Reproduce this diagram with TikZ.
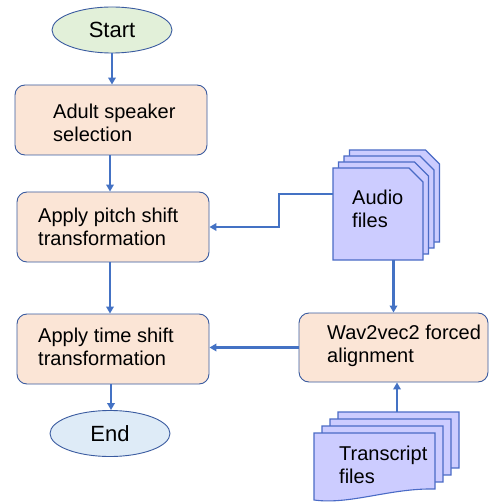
\documentclass[tikz,border=0pt]{standalone}
\usepackage{fontspec}
\setmainfont{Liberation Sans}
\usetikzlibrary{arrows.meta,shapes.geometric}
\definecolor{peach}{HTML}{FBE5D6}
\definecolor{boxline}{HTML}{3A5BA0}
\definecolor{arrowblue}{HTML}{4472C4}
\definecolor{startfill}{HTML}{E2F0D9}
\definecolor{endfill}{HTML}{DEEBF7}
\definecolor{sheetfill}{HTML}{CCCCFF}
\definecolor{sheetline}{HTML}{4A6BC6}
\begin{document}
\begin{tikzpicture}[x=1pt,y=-1pt,
  procbox/.style={draw=boxline,line width=0.9pt,fill=peach,rounded corners=10pt,inner sep=0pt},
  termnode/.style={ellipse,draw=boxline,line width=0.9pt,inner sep=0pt,minimum width=120pt,minimum height=46pt,font=\fontsize{22}{26}\selectfont},
  boxtext/.style={anchor=west,align=left,inner sep=0pt,font=\fontsize{20}{23}\selectfont},
  sheet/.style={draw=sheetline,line width=1.1pt,fill=sheetfill,line join=miter},
  arr/.style={draw=arrowblue,line width=2.3pt,-{Triangle[length=7pt,width=7.5pt]}}]
\useasboundingbox (0,0) rectangle (489,502);
\fill[white] (0,0) rectangle (489,502);

% left column
\node[termnode,fill=startfill] (start) at (112,30) {Start};
\node[procbox,minimum width=192pt,minimum height=70pt] (adult) at (111,120) {};
\node[boxtext] (adultt) at (53,123) {Adult speaker\\selection};
\node[procbox,minimum width=192pt,minimum height=70pt] (pitch) at (113,227) {};
\node[boxtext] (pitcht) at (38,227) {Apply pitch shift\\transformation};
\node[procbox,minimum width=192pt,minimum height=70pt] (time) at (113,349) {};
\node[boxtext] (timet) at (38,346.5) {Apply time shift\\transformation};
\node[termnode,fill=endfill] (end) at (110,433.5) {End};

% right column
\node[procbox,minimum width=189pt,minimum height=69pt] (wav) at (393.5,347.5) {};
\node[boxtext] (wavt) at (327,346) {Wav2vec2 forced\\alignment};

% audio stack
\foreach \k in {3,2,1,0} {
  \draw[sheet,shift={(5.5*\k,-6*\k)}] (333,168) -- (409,168) -- (423,182) -- (423,260) -- (333,260) -- cycle;
}
\node[inner sep=0pt,minimum width=90pt,minimum height=92pt] (audio) at (378,214) {};
\node[boxtext] (audiot) at (352,209) {Audio\\files};

% transcript stack
\foreach \k in {3,2,1,0} {
  \draw[sheet,shift={(8*\k,-7*\k)}] (314,433) -- (435,433) -- (435,489) .. controls (390,488) and (350,505) .. (314,500) -- cycle;
}
\node[inner sep=0pt,minimum width=121pt,minimum height=66pt] (trans) at (374.5,466) {};
\node[boxtext] (transt) at (339,465) {Transcript\\files};

% connectors
\draw[arr] (start.south) -- (start.south |- adult.north);
\draw[arr] ([xshift=-1pt]adult.south) -- ([xshift=-1pt]adult.south |- pitch.north);
\draw[arr] ([xshift=-3pt]pitch.south) -- ([xshift=-3pt]pitch.south |- time.north);
\draw[arr] ([xshift=-2pt]time.south) -- ([xshift=-2pt]time.south |- end.north);
\draw[arr] ([yshift=20pt]audio.west) -- ++(-54,0) |- (pitch.east);
\draw[arr] (audio.south -| wav.north) -- (wav.north);
\coordinate (transtop) at (397,412);
\draw[arr] (transtop) -- (transtop |- wav.south);
\draw[arr] (wav.west) -- (wav.west -| time.east);
\end{tikzpicture}
\end{document}
